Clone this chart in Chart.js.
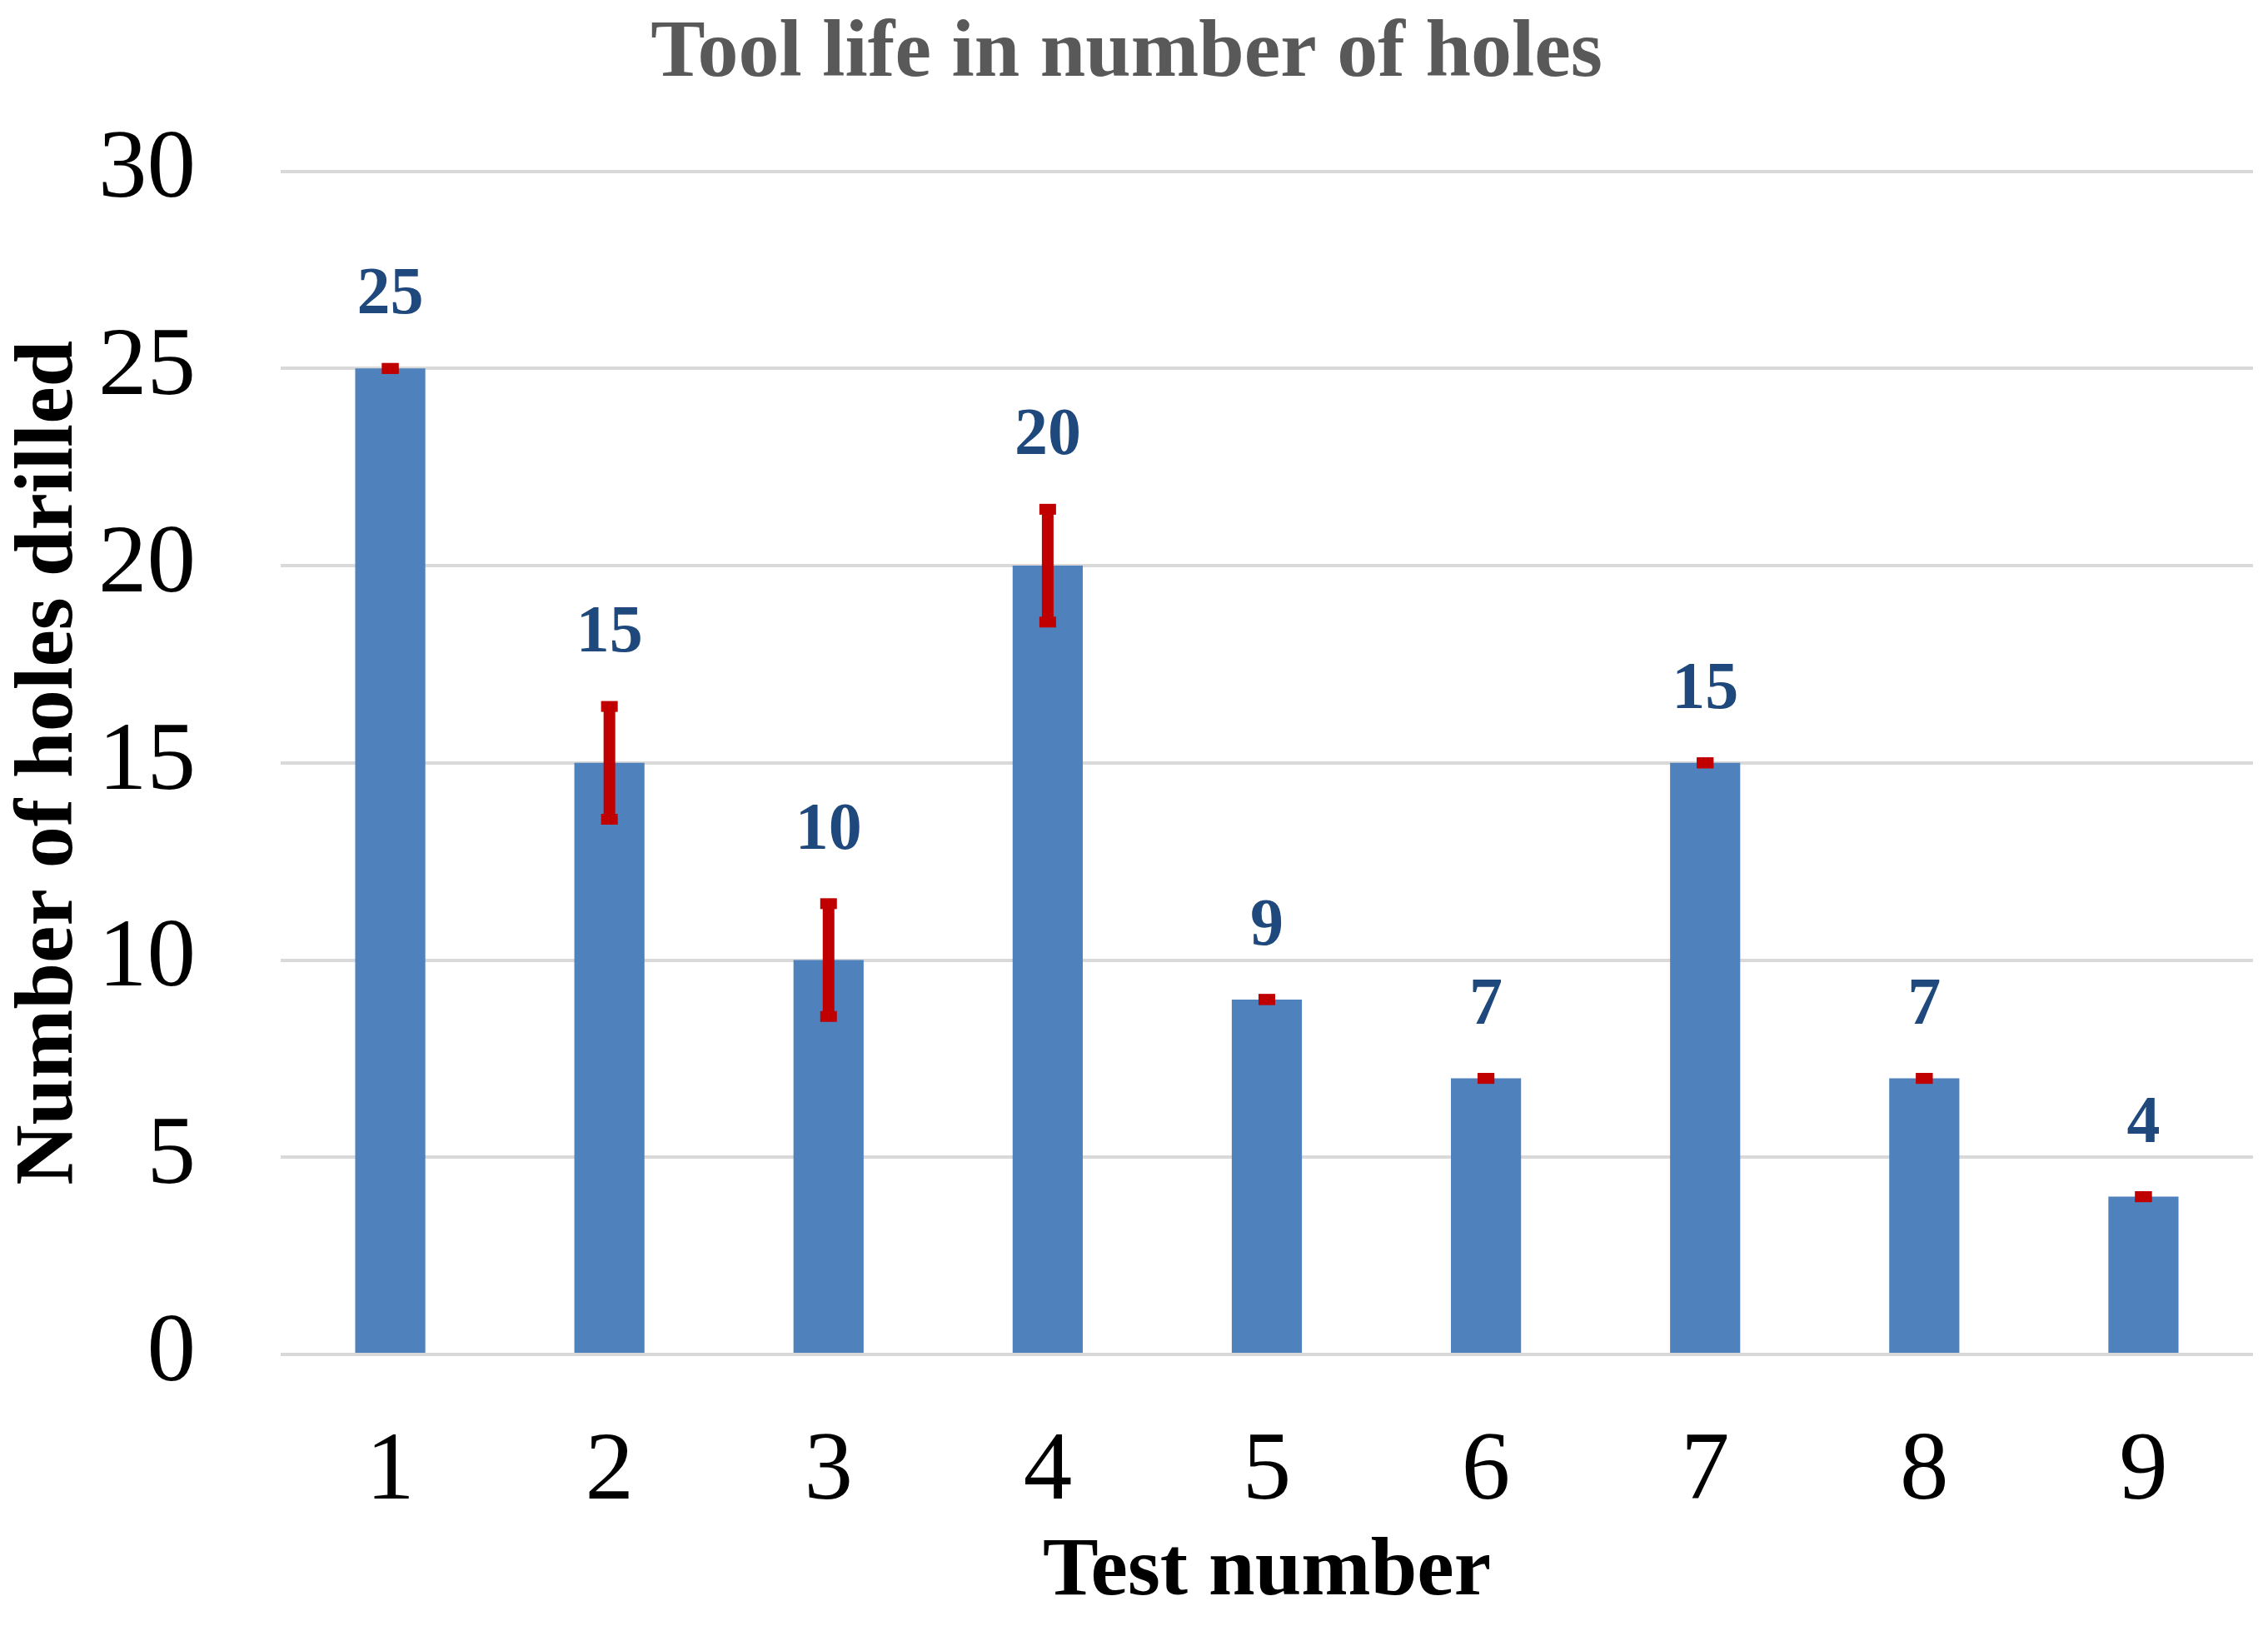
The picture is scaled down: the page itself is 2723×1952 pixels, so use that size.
<!DOCTYPE html>
<html>
<head>
<meta charset="utf-8">
<script src="https://cdn.jsdelivr.net/npm/chart.js@4/dist/chart.umd.min.js"></script>
<style>
  html, body { margin: 0; padding: 0; background: #fff; }
  canvas { display: block; }
</style>
</head>
<body>
<canvas id="myChart" width="2723" height="1952"></canvas>
<script>
// data
const testNumbers = ["1", "2", "3", "4", "5", "6", "7", "8", "9"];
const holesDrilled = [25, 15, 10, 20, 9, 7, 15, 7, 4];
const holesError = [0, 1.43, 1.43, 1.43, 0, 0, 0, 0, 0];
const yTicks = [0, 5, 10, 15, 20, 25, 30];

const serif = "'Liberation Serif', 'Times New Roman', serif";

// red error bars with small square caps
const errorBars = {
  id: "errorBars",
  afterDatasetsDraw(chart) {
    const ctx = chart.ctx;
    const y = chart.scales.y;
    const meta = chart.getDatasetMeta(0);
    ctx.save();
    ctx.fillStyle = "#C00000";
    meta.data.forEach((bar, i) => {
      const e = holesError[i];
      const top = y.getPixelForValue(holesDrilled[i] + e);
      const bot = y.getPixelForValue(holesDrilled[i] - e);
      if (e > 0) ctx.fillRect(bar.x - 7, top, 14, bot - top);
      ctx.fillRect(bar.x - 10, top - 6.5, 20, 13);
      ctx.fillRect(bar.x - 10, bot - 6.5, 20, 13);
    });
    ctx.restore();
  },
};

// value labels above the bars
const valueLabels = {
  id: "valueLabels",
  afterDatasetsDraw(chart) {
    const ctx = chart.ctx;
    const y = chart.scales.y;
    const meta = chart.getDatasetMeta(0);
    ctx.save();
    ctx.fillStyle = "#1F497D";
    ctx.font = "bold 80px " + serif;
    ctx.textAlign = "center";
    ctx.textBaseline = "alphabetic";
    meta.data.forEach((bar, i) => {
      const top = y.getPixelForValue(holesDrilled[i] + holesError[i]);
      ctx.fillText(String(holesDrilled[i]), bar.x, top - 66);
    });
    ctx.restore();
  },
};

const ctx = document.getElementById("myChart").getContext("2d");
const myChart = new Chart(ctx, {
  type: "bar",
  data: {
    labels: testNumbers,
    datasets: [
      {
        label: "Tool life",
        data: holesDrilled,
        backgroundColor: "#4F81BD",
        borderWidth: 0,
        barPercentage: 0.32,
        categoryPercentage: 1,
      },
    ],
  },
  options: {
    responsive: false,
    devicePixelRatio: 1,
    animation: false,
    layout: { padding: { left: 0, right: 18, top: 0, bottom: 0 } },
    plugins: {
      legend: { display: false },
      tooltip: { enabled: false },
      title: {
        display: true,
        text: "Tool life in number of holes",
        color: "#595959",
        font: { family: serif, size: 98, weight: "bold", lineHeight: 1.2 },
        padding: { top: 7, bottom: 81 },
      },
    },
    scales: {
      x: {
        grid: { display: false, drawTicks: false },
        border: { display: false },
        ticks: {
          color: "#000",
          font: { family: serif, size: 117 },
          padding: 72,
        },
        title: {
          display: true,
          text: "Test number",
          color: "#000",
          font: { family: serif, size: 100, weight: "bold", lineHeight: 1.2 },
          padding: { top: 0, bottom: 4 },
        },
        afterFit(scale) {
          scale.height = 326;
        },
      },
      y: {
        min: 0,
        max: 30,
        afterBuildTicks(scale) {
          scale.ticks = yTicks.map((v) => ({ value: v }));
        },
        grid: { color: "#D9D9D9", lineWidth: 4, drawTicks: false },
        border: { display: false },
        ticks: {
          color: "#000",
          font: { family: serif, size: 117 },
          padding: 102,
        },
        title: {
          display: true,
          text: "Number of holes drilled",
          color: "#000",
          font: { family: serif, size: 100, weight: "bold", lineHeight: 1.2 },
          padding: 0,
        },
        afterFit(scale) {
          scale.width = 337;
        },
      },
    },
  },
  plugins: [errorBars, valueLabels],
});
</script>
</body>
</html>
